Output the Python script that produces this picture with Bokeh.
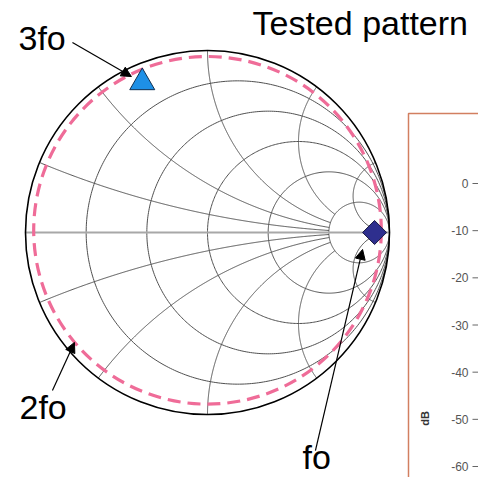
import numpy as np
from bokeh.plotting import figure
from bokeh.models import Range1d, Arrow, NormalHead
from bokeh.core.properties import value
from bokeh.embed import file_html
from bokeh.resources import INLINE

# ---------------- data ----------------
# Smith chart grid values (normalised resistance / reactance)
R_CIRCLES = [0.2, 0.5, 1.0, 2.0, 5.0]
X_ARCS = [0.2, 0.5, 1.0, 2.0, 5.0]
X_ARC_RMAX = [5.0, 5.0, 5.0, 5.0, 1e6]

# tested pattern: constant |Gamma| circle
PATTERN_MAG = [0.955]

# harmonic load points (|Gamma|, angle in degrees)
POINT_NAMES = ["fo", "3fo"]
POINT_MAG = [0.918, 0.910]
POINT_ANGLE = [0.0, 113.2]

# cropped dB plot tick labels
DB_TICKS = [0, -10, -20, -30, -40, -50, -60]

# ---------------- figure ----------------
W, H = 478, 477
SCALE = 182.0            # px per unit Gamma
CX, CY = 207.0, 232.0    # canvas px of Gamma = 0
x0 = -CX / SCALE
x1 = (W - CX) / SCALE
y1 = CY / SCALE
y0 = -(H - CY) / SCALE

# dB axis mapping
DB_PX = 283.0 / 60.0
DB0_Y = 183.0
db_top = DB0_Y / DB_PX
db_bot = -(H - DB0_Y) / DB_PX

p = figure(width=W, height=H, x_range=Range1d(x0, x1), y_range=Range1d(y0, y1),
           output_backend="svg", toolbar_location=None, min_border=0,
           x_axis_location=None, y_axis_location=None)
p.grid.visible = False
p.outline_line_color = None
p.background_fill_color = "white"
p.border_fill_color = "white"
p.extra_y_ranges = {"db": Range1d(db_bot, db_top)}

GRID_COLOR = "#505050"

# resistance circles
rx, ry = [], []
th = np.linspace(0, 2 * np.pi, 400)
for r in R_CIRCLES:
    c = r / (1 + r)
    rad = 1 / (1 + r)
    rx.append(c + rad * np.cos(th))
    ry.append(rad * np.sin(th))
p.multi_line(rx, ry, line_color=GRID_COLOR, line_width=1)

# reactance arcs
ax, ay = [], []
for xv, rmax in zip(X_ARCS, X_ARC_RMAX):
    t = np.linspace(0, np.arctan(rmax), 400)
    rr = np.tan(t)
    for s in (1, -1):
        z = rr + 1j * s * xv
        g = (z - 1) / (z + 1)
        ax.append(g.real)
        ay.append(g.imag)
p.multi_line(ax, ay, line_color=GRID_COLOR, line_width=1)

# real axis
p.segment(x0=[-1], y0=[0], x1=[1], y1=[0], line_color="#a8a8a8", line_width=2)

# outer circle
p.circle(x=[0], y=[0], radius=1.0, fill_color=None, line_color="black", line_width=1.6)

# tested pattern (dashed pink)
p.circle(x=[0.0], y=[0.012], radius=PATTERN_MAG[0], fill_color=None,
         line_color="#EF6C98", line_width=3.2, line_dash="13 7")

# harmonic markers
ang = np.deg2rad(POINT_ANGLE)
px = list(np.array(POINT_MAG) * np.cos(ang))
py = list(np.array(POINT_MAG) * np.sin(ang))
p.scatter(x=[px[0]], y=[py[0]], marker="square", angle=np.pi / 4, size=17,
          fill_color="#2E2F8E", line_color="#1a1a40", line_width=1)
p.scatter(x=[px[1]], y=[py[1] - 0.012], marker="triangle", size=25,
          fill_color="#1E90E6", line_color="#103050", line_width=1)

# arrows (annotation positions in Gamma units)
ARROWS = [
    (-0.742, 1.044, -0.418, 0.857),   # 3fo
    (-0.852, -0.868, -0.731, -0.604), # 2fo
    (0.593, -1.198, 0.852, -0.093),   # fo
]
for xs, ys, xe, ye in ARROWS:
    p.add_layout(Arrow(end=NormalHead(size=10, fill_color="black", line_color="black"),
                       x_start=xs, y_start=ys, x_end=xe, y_end=ye,
                       line_color="black", line_width=1.2))

# labels
FONT = value("Liberation Sans")
p.text(x=[-1.0385, -1.0330, 0.522], y=[1.0687, -0.9588, -1.2335],
       text=["3fo", "2fo", "fo"], text_font=FONT, text_font_size="34px",
       text_color="black", text_align="left", text_baseline="alphabetic")
p.text(x=[0.2473], y=[1.1511], text=["Tested pattern"], text_font=FONT,
       text_font_size="34px", text_color="black", text_align="left",
       text_baseline="alphabetic")

# cropped dB plot frame
p.quad(left=[1.1044], right=[3.0], top=[0.6538], bottom=[-3.0],
       fill_color=None, line_color="#D27F60", line_width=1.5)

# dB tick labels and tick marks
p.text(x=[1.434] * len(DB_TICKS), y=DB_TICKS, text=[str(v) for v in DB_TICKS],
       y_range_name="db", text_font=FONT, text_font_size="12px",
       text_color="#555555", text_align="right", text_baseline="middle")
p.segment(x0=[1.456] * len(DB_TICKS), y0=DB_TICKS, x1=[1.49] * len(DB_TICKS),
          y1=DB_TICKS, y_range_name="db", line_color="#666666", line_width=1)
p.text(x=[1.1978], y=[-49.8], text=["dB"], y_range_name="db", angle=np.pi / 2,
       text_font=FONT, text_font_size="11px", text_font_style="bold",
       text_color="#333333", text_align="center", text_baseline="middle")

open("out.html", "w").write(file_html(p, INLINE))
